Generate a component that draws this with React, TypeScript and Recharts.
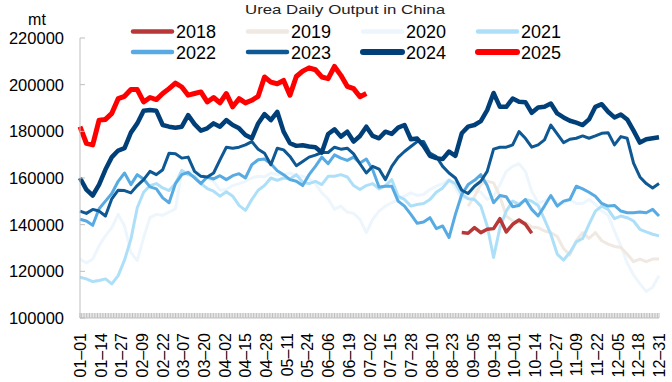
import { Line, LineChart, XAxis, YAxis } from "recharts";

// sampled every 4th day of the year (day 0 = 01-01, day 364 = 12-31)
const sampleDays = [
  0, 4, 8, 12, 16, 20, 24, 28, 32, 36, 40, 44, 48, 52, 56, 60, 64, 68, 72, 76, 80, 84, 88,
  92, 96, 100, 104, 108, 112, 116, 120, 124, 128, 132, 136, 140, 144, 148, 152, 156, 160, 164, 168, 172, 176, 180,
  184, 188, 192, 196, 200, 204, 208, 212, 216, 220, 224, 228, 232, 236, 240, 244, 248, 252, 256, 260, 264, 268,
  272, 276, 280, 284, 288, 292, 296, 300, 304, 308, 312, 316, 320, 324, 328, 332, 336, 340, 344, 348, 352, 356, 360, 364,
];

const tickLabels = [
  "01–01", "01–14", "01–27", "02–09", "02–22", "03–07", "03–20", "04–02", "04–15", "04–28",
  "05–11", "05–24", "06–06", "06–19", "07–02", "07–15", "07–28", "08–10", "08–23", "09–05",
  "09–18", "10–01", "10–14", "10–27", "11–09", "11–22", "12–05", "12–18", "12–31",
];

const yTicks = [100000, 120000, 140000, 160000, 180000, 200000, 220000];

const y2018Start = 240;
const y2018 = [136600, 136330, 138740, 136600, 138030, 138300, 142550, 136900, 140160, 142000, 140160, 136330];

const y2019Start = 244;
const y2019 = [
  147960, 152200, 157200, 158600, 157900, 152200, 143700, 141600, 140900, 140900, 139000, 138700, 137300, 136600,
  134900, 129800, 127000, 133100, 136600, 134100, 136600, 133100, 131650, 130660, 130230, 127400, 124140, 125270,
  124140, 125270, 125270,
];

const y2020 = [
  125270, 123570, 125270, 130940, 135200, 138740, 144410, 139450, 128110, 124560, 134480, 143000, 144410, 143990,
  145410, 146830, 162850, 162420, 162850, 161860, 159870, 158590, 154760,
  155050, 156750, 157600, 158590, 160010, 160720, 160440, 162140, 161430, 161430, 162140, 161000, 160720, 159590,
  157600, 153630, 151080, 146540, 147960, 145410, 144840, 142290, 136620,
  142290, 145830, 147960, 149380, 150790, 152210, 153630, 152500, 152920, 155050, 156470, 157600, 159300, 155760,
  150790, 153350, 154760, 153910, 150790, 152210, 157180, 162850,
  164980, 166110, 162850, 154340, 149380, 150080, 151930, 149380, 149090, 150790, 149090, 149090, 150790, 148670,
  145830, 143990, 137330, 130940, 123570, 118460, 114640, 111370, 113220, 118180,
];

const y2021 = [
  117470, 116760, 115630, 116050, 116760, 114640, 118180, 124840, 133800, 147250, 153910, 156750, 157600, 155760,
  154620, 157600, 163270, 161430, 160720, 157600, 155480, 154340, 152210,
  154060, 152210, 148240, 146120, 150790, 154760, 156750, 160010, 159020, 160010, 159590, 161430, 158170, 157600,
  158590, 157180, 160720, 160720, 161430, 160440, 156750, 155050, 156750,
  157600, 155330, 156750, 159300, 152210, 150790, 147960, 148670, 149090, 150790, 153910, 155760, 159020, 157600,
  152920, 151080, 150790, 147960, 139450, 125980, 138740, 145830,
  150080, 148670, 150790, 150080, 148240, 142290, 135900, 127400, 124840, 128110, 132640, 134060, 140160, 145830,
  147960, 146540, 142570, 143700, 142990, 141580, 138030, 136900, 135900, 135200,
];

const y2022 = [
  142290, 141580, 139730, 146830, 150080, 153350, 158590, 162140, 157180, 161430, 159590, 156180, 155330, 151500,
  149380, 157600, 161430, 162420, 160010, 157600, 160440, 159590, 161000,
  159300, 161000, 161860, 160010, 165680, 167810, 168100, 166110, 163130, 161430, 159300, 158590, 156750, 161430,
  164980, 168950, 166110, 169940, 168520, 167530, 168950, 166390, 168100,
  163560, 156180, 156470, 156470, 150080, 147960, 144410, 140590, 141150, 143000, 138320, 139450, 134480, 144410,
  152920, 157180, 159020, 161430, 156750, 149380, 152500, 151930,
  147670, 148240, 150790, 146540, 143700, 147960, 152500, 147960, 150080, 150790, 156470, 155330, 153910, 152210,
  149090, 147960, 148240, 145830, 145120, 145120, 145410, 145120, 146540, 143700,
];

const y2023 = [
  145830, 144840, 146540, 145830, 143700, 151080, 154760, 154620, 153630, 156750, 159300, 162850, 161430, 163560,
  170650, 170360, 168520, 168950, 162850, 160720, 160440, 162140, 167810,
  173200, 172780, 173200, 174200, 175610, 172350, 170650, 165680, 172780, 172070, 169230, 165260, 167100, 168950,
  169800, 170930, 170930, 173200, 172350, 172780, 170360, 166110, 162140,
  164980, 163840, 159300, 164980, 168800, 171350, 173480, 175610, 175610, 170650, 169230, 164980, 162140, 160010,
  154760, 153350, 156470, 158590, 162850, 172350, 173200, 173200,
  174200, 179860, 177030, 173200, 174200, 176320, 182700, 178870, 175180, 176600, 177030, 178020, 177030, 178020,
  179150, 179440, 174200, 177740, 177030, 166390, 160440, 157600, 155760, 157600,
];

const y2024 = [
  160000, 155050, 152500, 157200, 163600, 168950, 171780, 172770, 179440, 183400, 188800, 189100, 188800, 182700,
  182000, 181560, 182000, 186950, 183100, 180290, 181280, 183400, 182000,
  184800, 182700, 181280, 178450, 177000, 183400, 187380, 184800, 188370, 179860, 174900, 173770, 174050, 173480,
  173200, 170930, 178870, 180860, 177740, 179860, 175610, 178020, 182000,
  178020, 177030, 179860, 178870, 181560, 182700, 176600, 176880, 173770, 169510, 168520, 168100, 171350, 169510,
  179150, 182000, 182700, 184400, 189080, 196450, 190500, 190500,
  194040, 192630, 192480, 187950, 190220, 190500, 191920, 187660, 185960, 184540, 183690, 182700, 185110, 190500,
  191630, 188370, 185960, 187240, 185110, 180290, 175180, 176600, 177030, 177450,
];

const y2025 = [
  182000, 174900, 174200, 184800, 185100, 187700, 194000, 195000, 197900, 197900, 192600, 194500, 193600, 196200,
  198300, 200700, 199000, 195500, 196200, 196900, 192600, 194500, 192200,
  196200, 190500, 194000, 192200, 193300, 195000, 203300, 201100, 200400, 201800, 195500, 203500, 205800, 207200,
  206400, 203300, 202600, 207800, 204000, 199300, 198300, 194800, 196200,
];

const series = [
  { key: "s2018", name: "2018", color: "#b83737", width: 3.5, start: y2018Start, values: y2018 },
  { key: "s2019", name: "2019", color: "#efe9e2", width: 3, start: y2019Start, values: y2019 },
  { key: "s2020", name: "2020", color: "#edf6fd", width: 3, start: 0, values: y2020 },
  { key: "s2021", name: "2021", color: "#ade0f8", width: 3, start: 0, values: y2021 },
  { key: "s2022", name: "2022", color: "#58abe2", width: 3, start: 0, values: y2022 },
  { key: "s2023", name: "2023", color: "#0e5893", width: 3, start: 0, values: y2023 },
  { key: "s2024", name: "2024", color: "#003f78", width: 4.5, start: 0, values: y2024 },
  { key: "s2025", name: "2025", color: "#ff0000", width: 5, start: 0, values: y2025 },
];

// paint order, lightest lines underneath
const drawOrder = ["s2020", "s2019", "s2021", "s2022", "s2018", "s2023", "s2024", "s2025"];

const rows = sampleDays.map((day) => {
  const row: Record<string, number | null> = { day };
  series.forEach((s) => {
    const i = (day - s.start) / 4;
    row[s.key] = i >= 0 && i < s.values.length ? s.values[i] : null;
  });
  return row;
});

const allDays = Array.from({ length: 365 }, (_, i) => i);

const FONT = "'Liberation Sans', Arial, sans-serif";

function XTick(props: any) {
  const { x, y, payload } = props;
  const d = payload.value;
  return (
    <g>
      <line x1={x} x2={x} y1={y} y2={y - 5} stroke="#bfbfbf" strokeWidth={1} />
      {d % 13 === 0 && (
        <text
          transform={`translate(${x + 6},${y + 15}) rotate(-90)`}
          textAnchor="end"
          fontSize={16}
          fontFamily={FONT}
          fill="#000"
        >
          {tickLabels[d / 13]}
        </text>
      )}
    </g>
  );
}

function YTick(props: any) {
  const { x, y, payload } = props;
  return (
    <g>
      <line x1={x} x2={x + 5} y1={y} y2={y} stroke="#bfbfbf" strokeWidth={1} />
      <text
        x={x - 16}
        y={y}
        textAnchor="end"
        dominantBaseline="central"
        fontSize={16.5}
        fontFamily={FONT}
        fill="#000"
      >
        {payload.value}
      </text>
    </g>
  );
}

export default function App() {
  return (
    <div style={{ position: "absolute", left: 0, top: 0, width: 672, height: 382, background: "#fff" }}>
      <LineChart width={672} height={382} data={rows} margin={{ top: 38, right: 13, bottom: 0, left: 0 }}>
        <XAxis
          dataKey="day"
          type="number"
          domain={[0, 364]}
          ticks={allDays}
          interval={0}
          tickSize={0}
          tickMargin={0}
          tickLine={false}
          tick={(p: any) => <XTick {...p} />}
          axisLine={{ stroke: "#bfbfbf" }}
          height={64}
        />
        <YAxis
          type="number"
          domain={[100000, 220000]}
          ticks={yTicks}
          interval={0}
          tickSize={0}
          tickMargin={0}
          tickLine={false}
          tick={(p: any) => <YTick {...p} />}
          axisLine={{ stroke: "#bfbfbf" }}
          width={80}
        />
        {drawOrder.map((k) => {
          const s = series.find((v) => v.key === k)!;
          return (
            <Line
              key={k}
              dataKey={k}
              type="linear"
              stroke={s.color}
              strokeWidth={s.width}
              strokeLinejoin="round"
              dot={false}
              activeDot={false}
              isAnimationActive={false}
            />
          );
        })}
      </LineChart>
      <svg
        width={672}
        height={382}
        style={{ position: "absolute", left: 0, top: 0, pointerEvents: "none" }}
      >
        <text x={245} y={13.5} fontSize={13} fontFamily={FONT} fill="#222" textLength={200} lengthAdjust="spacingAndGlyphs">
          Urea Daily Output in China
        </text>
        <text x={37} y={25} textAnchor="middle" fontSize={16} fontFamily={FONT} fill="#000">
          mt
        </text>
        {series.map((s, i) => {
          const col = i % 4;
          const row = Math.floor(i / 4);
          const x0 = 131 + col * 115;
          const cy = row === 0 ? 31.5 : 52;
          return (
            <g key={s.key}>
              <line
                x1={x0 + 2}
                x2={x0 + 41}
                y1={cy}
                y2={cy}
                stroke={s.color}
                strokeWidth={s.key === "s2024" || s.key === "s2025" ? 6 : 4.5}
                strokeLinecap="round"
              />
              <text x={x0 + 45} y={cy + 6.6} fontSize={18} fontFamily={FONT} fill="#000">
                {s.name}
              </text>
            </g>
          );
        })}
      </svg>
    </div>
  );
}
